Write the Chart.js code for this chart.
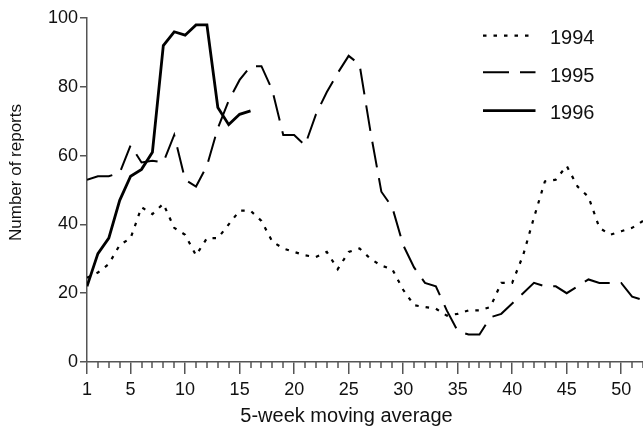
<!DOCTYPE html>
<html><head><meta charset="utf-8">
<script src="https://cdn.jsdelivr.net/npm/chart.js@4.4.1/dist/chart.umd.min.js"></script>
<style>html,body{margin:0;padding:0;background:#fff;overflow:hidden}#wrap{width:643px;height:429px;position:relative}</style>
</head><body><div id="wrap"><canvas id="c" width="643" height="429"></canvas></div>
<script>
const weeks = [1,2,3,4,5,6,7,8,9,10,11,12,13,14,15,16,17,18,19,20,21,22,23,24,25,26,
  27,28,29,30,31,32,33,34,35,36,37,38,39,40,41,42,43,44,45,46,47,48,49,50,51,52];
const series1994 = [24.5,26,28.5,34,36,45,43,46,39,37,
  31,36,36,40,44,44,41,35,33,32,
  31,30.5,32,27,32,33,30,28,27,21,
  16.5,16,15.5,13.5,14,15,15,16,23,23,
  31,42,52.5,53,57,51,48,39,37,38,
  39,41];
const series1995 = [53,54,54,55,63,58,58.5,58,66,53,
  51,57,68,76,82,86,86,79,66,66,
  63,72,78.5,84,89,86.5,67,49.5,45,34,
  27.5,23,22,15,9,8,8,13,14,17,
  20,23,22,22,20,22,24,23,23,23,
  19,18];
const series1996 = [22,31.5,36,47,54,56,61,92,96,95,98,98,74,69,72,73];
const majorWeeks = [1,5,10,15,20,25,30,35,40,45,50];
const seriesNames = ['1994','1995','1996'];
const yTitle = 'Number of reports';
const xTitle = '5-week moving average';

const FONT = '"Liberation Sans", Arial, sans-serif';
const AXIS = '#555';
const TXT = '#111';

function pts(vals){ return vals.map((v,i)=>({x:weeks[i], y:v})); }

const extras = {
  id:'extras',
  afterDraw(chart){
    const ctx = chart.ctx, xs = chart.scales.x, a = chart.chartArea;
    ctx.save();
    ctx.strokeStyle = AXIS; ctx.lineWidth = 1.5;
    weeks.forEach(w=>{
      if (majorWeeks.includes(w)) return;
      const px = Math.round(xs.getPixelForValue(w));
      ctx.beginPath(); ctx.moveTo(px, a.bottom); ctx.lineTo(px, a.bottom+6); ctx.stroke();
    });
    ctx.fillStyle = TXT; ctx.textAlign = 'center'; ctx.textBaseline = 'alphabetic';
    ctx.font = '17px ' + FONT;
    ctx.save(); ctx.translate(21,172.5); ctx.rotate(-Math.PI/2); ctx.fillText(yTitle,0,0); ctx.restore();
    ctx.font = '20px ' + FONT;
    ctx.fillText(xTitle, 346.5, 421.7);
    const textY = [37.2, 75, 111.7];
    const lineY = [35.7, 72.3, 110.7];
    chart.data.datasets.forEach((ds,i)=>{
      ctx.save();
      ctx.strokeStyle = ds.borderColor; ctx.lineWidth = ds.borderWidth;
      ctx.setLineDash(ds.borderDash || []);
      ctx.beginPath(); ctx.moveTo(483, lineY[i]); ctx.lineTo(535.5, lineY[i]); ctx.stroke();
      ctx.restore();
      ctx.fillStyle = TXT; ctx.textAlign = 'left'; ctx.font = '20px ' + FONT;
      ctx.fillText(ds.label, 550, textY[i] + 7.2);
    });
    ctx.restore();
  }
};

new Chart(document.getElementById('c'), {
  type: 'line',
  data: {
    datasets: [
      { label: seriesNames[0], data: pts(series1994), borderColor:'#000', borderWidth:2.2, borderDash:[3.5,7], pointRadius:0, tension:0, fill:false },
      { label: seriesNames[1], data: pts(series1995), borderColor:'#000', borderWidth:2, borderDash:[26,11], pointRadius:0, tension:0, fill:false },
      { label: seriesNames[2], data: pts(series1996), borderColor:'#000', borderWidth:2.8, borderDash:[], pointRadius:0, tension:0, fill:false }
    ]
  },
  options: {
    responsive:false, animation:false, devicePixelRatio:1,
    layout:{ padding:{ top:18, right:0, left:0, bottom:0 } },
    plugins:{ legend:{display:false}, tooltip:{enabled:false} },
    scales:{
      x:{
        type:'linear', min:1, max:52,
        afterBuildTicks(scale){ scale.ticks = majorWeeks.map(v=>({value:v})); },
        afterFit(scale){ scale.height = 67; },
        ticks:{ autoSkip:false, maxRotation:0, color:TXT, font:{family:FONT, size:18}, padding:5 },
        grid:{ drawOnChartArea:false, tickLength:12, color:AXIS, lineWidth:1.5 },
        border:{ color:AXIS, width:1.5 }
      },
      y:{
        min:0, max:100,
        afterFit(scale){ scale.width = 87; },
        ticks:{ stepSize:20, color:TXT, font:{family:FONT, size:18}, padding:2 },
        grid:{ drawOnChartArea:false, tickLength:7, color:AXIS, lineWidth:1.5 },
        border:{ color:AXIS, width:1.5 }
      }
    }
  },
  plugins:[extras]
});
</script></body></html>
